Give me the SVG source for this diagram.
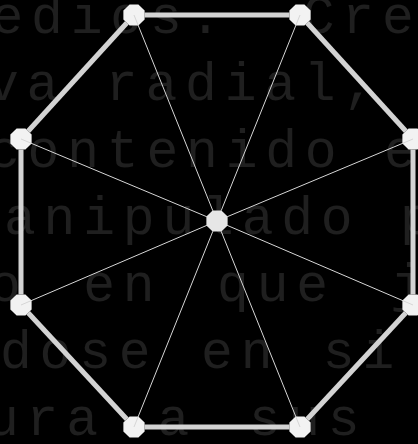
<svg xmlns="http://www.w3.org/2000/svg" xmlns:xlink="http://www.w3.org/1999/xlink" width="418" height="444" viewBox="0 0 418 444">
<style>
.bg{fill:#000}
.t{font-family:"Liberation Mono","Courier New",monospace;font-size:53px;letter-spacing:7.8px;fill:#1f1f1f}
.ring{stroke:#d3d3d3;stroke-width:5;fill:none}
.spoke{stroke:#d6d6d6;stroke-width:1;fill:none}
.outer{fill:#f2f2f2}
.hub{fill:#e6e6e6}
</style>
<defs>
<polygon id="oct" points="10.62,4.4 4.4,10.62 -4.4,10.62 -10.62,4.4 -10.62,-4.4 -4.4,-10.62 4.4,-10.62 10.62,-4.4"/>
</defs>
<rect class="bg" x="0" y="0" width="418" height="444"/>
<g id="background-text">
<text class="t" x="-8.5" y="33" word-spacing="34">edios. Cre</text>
<text class="t" x="-13" y="100">va radial,</text>
<text class="t" x="-12" y="167">contenido e</text>
<text class="t" x="4" y="234">anipulado p</text>
<text class="t" x="-11" y="301" word-spacing="15">o en que j</text>
<text class="t" x="0" y="368" word-spacing="3">dose en si</text>
<text class="t" x="-13" y="435" word-spacing="12">ura a sus</text>
</g>
<g id="node-a"><use xlink:href="#oct" class="outer" x="134" y="15"/></g>
<g id="node-b"><use xlink:href="#oct" class="outer" x="300" y="15"/></g>
<g id="node-c"><use xlink:href="#oct" class="outer" x="413" y="139"/></g>
<g id="node-d"><use xlink:href="#oct" class="outer" x="413" y="305"/></g>
<g id="node-e"><use xlink:href="#oct" class="outer" x="300" y="427"/></g>
<g id="node-f"><use xlink:href="#oct" class="outer" x="134" y="427"/></g>
<g id="node-g"><use xlink:href="#oct" class="outer" x="21" y="305"/></g>
<g id="node-h"><use xlink:href="#oct" class="outer" x="21" y="139"/></g>
<g id="node-center"><use xlink:href="#oct" class="hub" x="217" y="221"/></g>
<g id="connectors">
<line class="ring" x1="144.5" y1="15" x2="289.5" y2="15"/>
<line class="ring" x1="307.07" y1="22.76" x2="405.93" y2="131.24"/>
<line class="ring" x1="413" y1="149.5" x2="413" y2="294.5"/>
<line class="ring" x1="405.87" y1="312.7" x2="307.13" y2="419.3"/>
<line class="ring" x1="289.5" y1="427" x2="144.5" y2="427"/>
<line class="ring" x1="126.87" y1="419.3" x2="28.13" y2="312.7"/>
<line class="ring" x1="21" y1="294.5" x2="21" y2="149.5"/>
<line class="ring" x1="28.07" y1="131.24" x2="126.93" y2="22.76"/>
<line class="spoke" x1="134" y1="15" x2="212.89" y2="210.8"/>
<line class="spoke" x1="300" y1="15" x2="221.11" y2="210.8"/>
<line class="spoke" x1="413" y1="139" x2="227.15" y2="216.75"/>
<line class="spoke" x1="413" y1="305" x2="227.11" y2="225.33"/>
<line class="spoke" x1="300" y1="427" x2="221.11" y2="231.2"/>
<line class="spoke" x1="134" y1="427" x2="212.89" y2="231.2"/>
<line class="spoke" x1="21" y1="305" x2="206.89" y2="225.33"/>
<line class="spoke" x1="21" y1="139" x2="206.85" y2="216.75"/>
</g>
</svg>
